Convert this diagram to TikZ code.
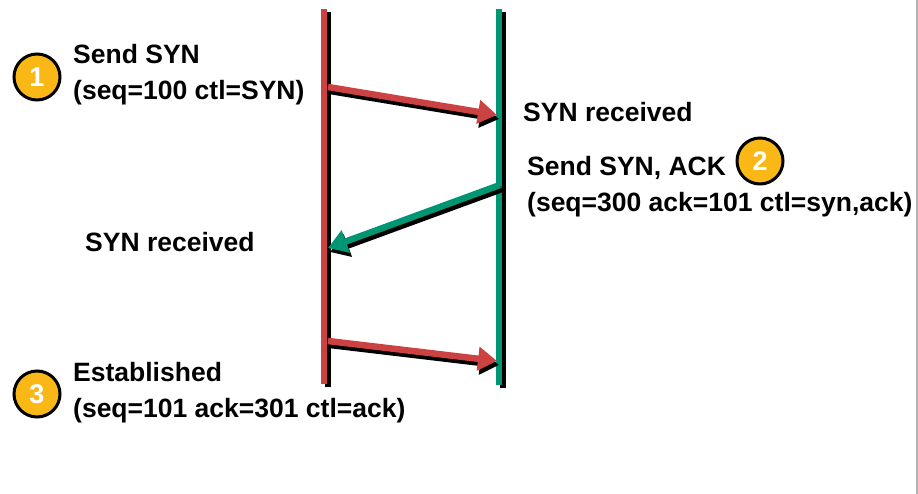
\documentclass[tikz,border=0pt]{standalone}
\usepackage{fontspec}
\setmainfont{Liberation Sans}
\usetikzlibrary{arrows.meta}
\definecolor{synred}{RGB}{204,66,66}
\definecolor{ackgreen}{RGB}{0,150,116}
\definecolor{badgeamber}{RGB}{250,184,22}

\begin{document}
\begin{tikzpicture}[x=1pt,y=-1pt,
  lifeline/.style={line width=6pt},
  msg/.style={line width=6.5pt,-{Triangle[length=19pt,width=23pt]}},
  lbl/.style={anchor=base west,inner sep=0pt,align=left,
    font=\bfseries\fontsize{26.5}{36}\selectfont},
  badge/.style={circle,draw=black,line width=3pt,fill=badgeamber,
    text=white,minimum size=46pt,inner sep=0pt,font=\bfseries\fontsize{27}{27}\selectfont}
]
  \useasboundingbox[fill=white] (0,0) rectangle (918,494);
  \draw[gray!60,line width=2pt] (917,0) -- (917,494);

  \coordinate (ltop) at (324,9);
  \coordinate (lbot) at (324,384);
  \coordinate (rtop) at (499,9);
  \coordinate (rbot) at (499,385);
  \draw[lifeline,black] ([shift={(4,3)}]ltop) -- ([shift={(4,3)}]lbot);
  \draw[lifeline,synred] (ltop) -- (lbot);
  \draw[lifeline,black] ([shift={(4,3)}]rtop) -- ([shift={(4,3)}]rbot);
  \draw[lifeline,ackgreen] (rtop) -- (rbot);

  \coordinate (syn-out) at (328,87);
  \coordinate (syn-in) at (497,115);
  \coordinate (sa-out) at (500,185);
  \coordinate (sa-in) at (328,248);
  \coordinate (ack-out) at (328,341);
  \coordinate (ack-in) at (497,361);
  \draw[msg,black] ([shift={(2,4)}]syn-out) -- ([shift={(2,4)}]syn-in);
  \draw[msg,synred] (syn-out) -- (syn-in);
  \draw[msg,black] ([shift={(2,4)}]sa-out) -- ([shift={(2,4)}]sa-in);
  \draw[msg,ackgreen] (sa-out) -- (sa-in);
  \draw[msg,black] ([shift={(2,4)}]ack-out) -- ([shift={(2,4)}]ack-in);
  \draw[msg,synred] (ack-out) -- (ack-in);

  \node[badge] (one) at (37,77) {1};
  \node[badge] (two) at (760,161) {2};
  \node[badge] (three) at (37,394) {3};

  \node[lbl] (send) at (73,100) {Send SYN\\(seq=100 ctl=SYN)};
  \node[lbl] (rcvd) at (523,122) {SYN received};
  \node[lbl] (synack) at (527,212) {Send SYN, ACK\\(seq=300 ack=101 ctl=syn,ack)};
  \node[lbl] (rcvd-l) at (85,252) {SYN received};
  \node[lbl] (est) at (73,417) {Established\\(seq=101 ack=301 ctl=ack)};
\end{tikzpicture}
\end{document}
